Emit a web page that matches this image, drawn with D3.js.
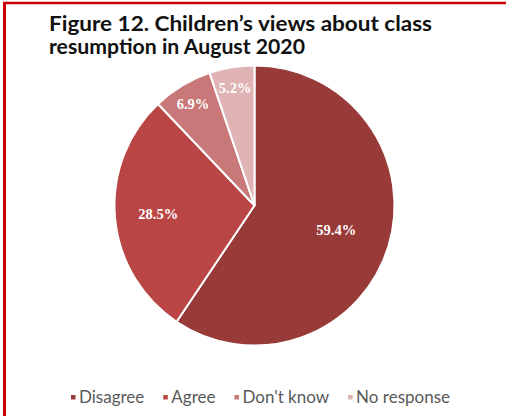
<!DOCTYPE html>
<html>
<head>
<meta charset="utf-8">
<script src="https://cdn.jsdelivr.net/npm/d3@7"></script>
<style>
  html, body { margin: 0; padding: 0; background: #fff; }
  svg { display: block; }
</style>
</head>
<body>
<svg id="chart" width="506" height="416"></svg>
<script>
// Survey responses: share of children (%) by view on class resumption
const categories = ["Disagree", "Agree", "Don't know", "No response"];
const shares = [59.4, 28.5, 6.9, 5.2];
const sliceColors = ["#973a38", "#b94644", "#c87878", "#e0b3b4"];
const titleLines = ["Figure 12. Children\u2019s views about class", "resumption in August 2020"];

const svg = d3.select("#chart");
const W = 506, H = 416;

// frame: red rule along the top and left edges
svg.append("rect").attr("x", 0).attr("y", 0).attr("width", W).attr("height", H).attr("fill", "#fff");
svg.append("line").attr("x1", 4.5).attr("x2", 4.5).attr("y1", 2).attr("y2", H)
  .attr("stroke", "#cc0000").attr("stroke-width", 3);
svg.append("line").attr("x1", 3).attr("x2", W).attr("y1", 3).attr("y2", 3)
  .attr("stroke", "#cc0000").attr("stroke-width", 2.5);

// title
const title = svg.append("text")
  .attr("font-family", "Lato, 'Open Sans', sans-serif")
  .attr("font-weight", 700)
  .attr("font-size", 21)
  .attr("fill", "#111");
const titleWidths = [383, 256];
titleLines.forEach((t, i) => {
  title.append("tspan").attr("x", 49).attr("y", 31 + i * 23)
    .attr("textLength", titleWidths[i]).attr("lengthAdjust", "spacingAndGlyphs")
    .text(t);
});

// pie
const cx = 254.5, cy = 205.5, R = 140;
const data = categories.map((c, i) => ({ category: c, value: shares[i], color: sliceColors[i] }));
const pie = d3.pie().value(d => d.value).sort(null);
const arcs = pie(data);
const arc = d3.arc().innerRadius(0).outerRadius(R);

const g = svg.append("g").attr("transform", `translate(${cx},${cy})`);
g.selectAll("path.slice")
  .data(arcs)
  .join("path")
  .attr("class", "slice")
  .attr("d", arc)
  .attr("fill", d => d.data.color)
  .attr("stroke", "#fff")
  .attr("stroke-width", 2)
  .attr("stroke-linejoin", "round");

// value labels: large slices nearer the centre, thin slices near the rim
const labelRadius = v => v > 50 ? 0.61 * R : v > 20 ? 0.69 * R : 0.85 * R;
g.selectAll("text.value")
  .data(arcs)
  .join("text")
  .attr("class", "value")
  .attr("transform", d => {
    const r = labelRadius(d.data.value);
    const [x, y] = d3.arc().innerRadius(r).outerRadius(r).centroid(d);
    return `translate(${x},${y})`;
  })
  .attr("text-anchor", "middle")
  .attr("dy", "0.35em")
  .attr("font-family", "'Liberation Serif', 'DejaVu Serif', serif")
  .attr("font-weight", 700)
  .attr("font-size", 14.5)
  .attr("fill", "#fff")
  .text(d => d.data.value.toFixed(1) + "%");

// legend
const legend = svg.append("g").attr("font-family", "Lato, 'Open Sans', sans-serif")
  .attr("font-size", 17).attr("fill", "#595959");
let x = 71;
data.forEach((d, i) => {
  const item = legend.append("g").attr("transform", `translate(${x},398)`);
  item.append("rect").attr("x", 0).attr("y", -3).attr("width", 4.5).attr("height", 4.5).attr("fill", d.color);
  const t = item.append("text").attr("x", 8).attr("y", 0).attr("dy", "0.32em").text(d.category);
  x += 8 + t.node().getComputedTextLength() + 19;
});
</script>
</body>
</html>
